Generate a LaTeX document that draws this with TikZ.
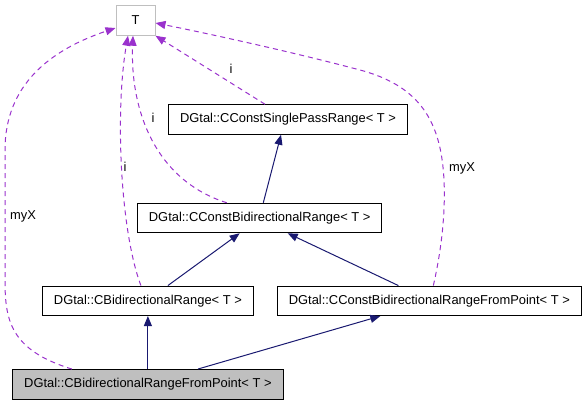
\documentclass[tikz,border=0pt]{standalone}
\usepackage{fontspec}
\setmainfont{Liberation Sans}
\usepackage{tikz}
\usetikzlibrary{
  arrows.meta,
  positioning
}
\definecolor{EdgeNavy}{RGB}{25,25,112}
\definecolor{EdgeOrchid}{RGB}{154,50,205}
\definecolor{BoxGray}{RGB}{191,191,191}
\tikzset{
  %%── 类节点 ─────────────────────────────────────────────
  cls/.style = {
    rectangle, draw = black, line width = 1pt,
    minimum height = 29.5pt, inner xsep = 11.5pt, inner ysep = 0pt,
    font = \fontsize{12.9}{15}\selectfont
  },
  clsT/.style    = {cls, draw = BoxGray, minimum width = 39pt},
  clsMain/.style = {cls, fill = BoxGray},
  %%── 边标签 ─────────────────────────────────────────────
  elbl/.style = {inner sep = 1pt, font = \fontsize{12.9}{15}\selectfont},
  %%── 箭头：继承（实线）与使用（虚线） ─────────────────────
  inh/.style = {-{Triangle[length=10pt,width=8pt]}, line width = 1pt, color = EdgeNavy},
  usg/.style = {-{Triangle[length=10pt,width=8pt]}, dash pattern = on 5pt off 4pt,
                line width = 1pt, color = EdgeOrchid},
}

\begin{document}
\begin{tikzpicture}[x = 1pt, y = -1pt]

  \useasboundingbox (0,0) rectangle (587,405);

  %% ── 节点 ────────────────────────────────────────────────
  \node[clsT] (tT)     at (135.5,20.5) {T};
  \node[cls]  (single) at (288,119.5)  {DGtal::CConstSinglePassRange< T >};
  \node[cls]  (cbidir) at (259.7,218)  {DGtal::CConstBidirectionalRange< T >};
  \node[cls]  (bidir)  at (147.9,300.8) {DGtal::CBidirectionalRange< T >};
  \node[cls, right=23pt of bidir]     (cbidirpt) {DGtal::CConstBidirectionalRangeFromPoint< T >};
  \node[clsMain, below=53pt of bidir] (bidirpt)  {DGtal::CBidirectionalRangeFromPoint< T >};

  %% ── 继承关系 ────────────────────────────────────────────
  \draw[inh] ([xshift=3.6pt]cbidir.north) -- ([xshift=-7pt]single.south);
  \draw[inh] ([xshift=20pt]bidir.north) -- ([xshift=-20pt]cbidir.south);
  \draw[inh] ([xshift=-31pt]cbidirpt.north) -- ([xshift=28pt]cbidir.south);
  \draw[inh] (bidirpt) -- (bidir);
  \draw[inh] ([xshift=50pt]bidirpt.north) -- ([xshift=-49pt]cbidirpt.south);

  %% ── 模板参数使用（虚线） ────────────────────────────────
  \draw[usg] ([xshift=-23pt]single.north) -- (tT.south east);
  \draw[usg] ([xshift=-33pt]cbidir.north) .. controls (155,180) and (130,110) .. ([xshift=-2.5pt]tT.south);
  \draw[usg] ([xshift=-7pt]bidir.north) .. controls (120,230) and (115,110) .. ([xshift=-7.5pt]tT.south);
  \draw[usg] ([xshift=-76pt]bidirpt.north) .. controls (10,350) and (5,320) .. (5,280)
    -- (5,150) .. controls (5,85) and (50,50) .. ([yshift=-7.5pt]tT.west);
  \draw[usg] ([xshift=4pt]cbidirpt.north) .. controls (446,230) and (448,175) .. (438,140)
    .. controls (428,105) and (405,82) .. (360,70)
    .. controls (300,54) and (220,36) .. ([yshift=-2.5pt]tT.east);

  %% ── 边标签 ──────────────────────────────────────────────
  \node[elbl] (li1)   at (231,69)  {i};
  \node[elbl] (li2)   at (153,118) {i};
  \node[elbl] (li3)   at (125,167) {i};
  \node[elbl] (lmyx1) at (23,216)  {myX};
  \node[elbl] (lmyx2) at (462,168) {myX};

\end{tikzpicture}
\end{document}
